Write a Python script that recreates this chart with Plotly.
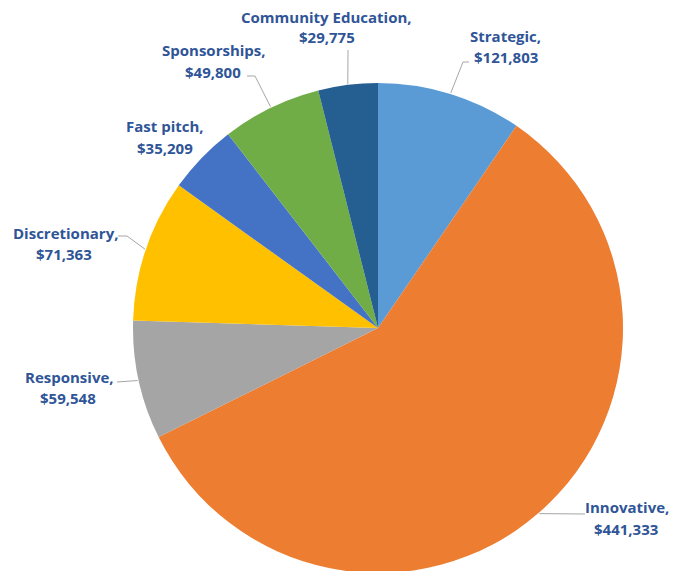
import math
import plotly.graph_objects as go

categories = ["Strategic", "Innovative", "Responsive", "Discretionary",
              "Fast pitch", "Sponsorships", "Community Education"]
# label amounts as printed
amounts = [121803, 441333, 59548, 71363, 35209, 49800, 29775]
# slice sizes as drawn (Strategic slice is drawn smaller than its label)
slice_values = [72600, 441333, 59548, 71363, 35209, 49800, 29775]
colors = ["#5B9BD5", "#ED7D31", "#A5A5A5", "#FFC000",
          "#4472C4", "#70AD47", "#255E91"]

W, H = 686, 571
OFF = 8  # page body margin offset
CX, CY, R = 378 - OFF, 328 - OFF, 245
TEXT_COLOR = "#2F5597"

# label line centres (page px): (x1, y1, x2, y2)
label_pos = {
    "Strategic": (505, 36, 506, 57),
    "Innovative": (627, 507, 626, 529),
    "Responsive": (69, 377, 68, 398),
    "Discretionary": (65, 233, 64, 254),
    "Fast pitch": (165, 126, 165, 148),
    "Sponsorships": (214, 50, 213, 72),
    "Community Education": (326, 17, 327, 37),
}
leader_pts = {
    "Strategic": [(463, 62), (469, 62)],
    "Innovative": [(585, 514)],
    "Responsive": [(117, 382)],
    "Discretionary": [(127, 236), (118, 236)],
    "Fast pitch": None,
    "Sponsorships": [(255, 76), (247, 76)],
    "Community Education": [(348, 50)],
}

def px(x):
    return (x - OFF) / W

def py(y):
    return 1 - (y - OFF) / H

def fx(x):
    return x / W

def fy(y):
    return 1 - y / H

fig = go.Figure(go.Pie(
    labels=categories,
    values=slice_values,
    sort=False,
    direction="clockwise",
    rotation=0,
    marker=dict(colors=colors, line=dict(width=0)),
    textinfo="none",
    hoverinfo="label+value",
    showlegend=False,
    domain=dict(x=[fx(CX - R), fx(CX + R)], y=[fy(CY + R), fy(CY - R)]),
))

total = sum(slice_values)
cum = 0
shapes = []
annotations = []
font = dict(family="Open Sans", size=15, color=TEXT_COLOR)
for cat, v, amt in zip(categories, slice_values, amounts):
    mid = (cum + v / 2) / total * 2 * math.pi
    cum += v
    ex = CX + OFF + (R + 1) * math.sin(mid)
    ey = CY + OFF - (R + 1) * math.cos(mid)
    pts = leader_pts[cat]
    if pts:
        path = f"M {px(ex)},{py(ey)}"
        for (x, y) in pts:
            path += f" L {px(x)},{py(y)}"
        shapes.append(dict(type="path", path=path, xref="paper", yref="paper",
                           line=dict(color="#A6A6A6", width=1)))
    x1, y1, x2, y2 = label_pos[cat]
    for (lx, ly, txt) in [(x1, y1, f"<b>{cat},</b>"), (x2, y2, f"<b>${amt:,}</b>")]:
        annotations.append(dict(
            x=px(lx), y=py(ly), xref="paper", yref="paper",
            text=txt, showarrow=False, xanchor="center", yanchor="middle",
            font=font,
        ))

fig.update_layout(
    width=W, height=H,
    margin=dict(l=0, r=0, t=0, b=0),
    paper_bgcolor="white",
    plot_bgcolor="white",
    shapes=shapes,
    annotations=annotations,
)

fig.write_html("out.html")
